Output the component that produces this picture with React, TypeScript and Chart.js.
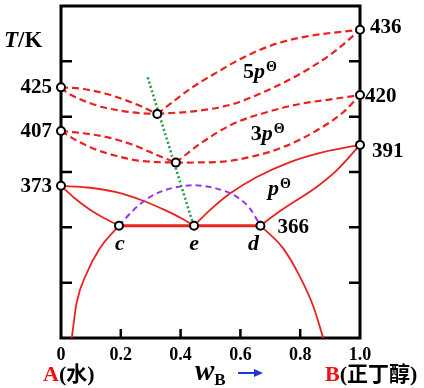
import React, { useEffect, useRef } from "react";
import { Chart, registerables } from "chart.js";
Chart.register(...registerables);

// ---- axis ticks ----
const xTickValues = [0, 0.2, 0.4, 0.6, 0.8, 1.0];
const xTickLabels = ["0", "0.2", "0.4", "0.6", "0.8", "1.0"];
const yTickValues = [1, 2, 3, 4, 5];

// ---- boiling / azeotropic temperatures (schematic height units) ----
const leftTempLabels = ["425", "407", "373"];
const leftTempY = [4.53, 3.74, 2.75];
const rightTempLabels = ["436", "420", "391"];
const rightTempY = [5.57, 4.39, 3.49];
const eutecticLabel = "366";
const eutecticY = 2.03;

// ---- special points ----
const pointNames = ["c", "e", "d"];
const pointX = [0.194, 0.445, 0.667];
const azeoX = [0.322, 0.384];
const azeoY = [4.05, 3.17];

// ---- 5p curves ----
const p5LeftDewX = [0, 0.075, 0.153, 0.22, 0.275, 0.322];
const p5LeftDewY = [4.53, 4.5, 4.41, 4.29, 4.17, 4.05];
const p5LeftBubX = [0, 0.019, 0.075, 0.141, 0.208, 0.275, 0.322];
const p5LeftBubY = [4.53, 4.44, 4.29, 4.17, 4.1, 4.06, 4.05];
const p5RightDewX = [0.322, 0.365, 0.431, 0.521, 0.61, 0.721, 0.833, 1.0];
const p5RightDewY = [4.05, 4.23, 4.5, 4.8, 5.07, 5.32, 5.46, 5.57];
const p5RightBubX = [0.322, 0.465, 0.576, 0.688, 0.799, 0.911, 1.0];
const p5RightBubY = [4.05, 4.11, 4.23, 4.47, 4.77, 5.16, 5.57];

// ---- 3p curves ----
const p3LeftDewX = [0, 0.075, 0.153, 0.231, 0.298, 0.342, 0.384];
const p3LeftDewY = [3.74, 3.7, 3.63, 3.51, 3.36, 3.26, 3.17];
const p3LeftBubX = [0, 0.052, 0.119, 0.186, 0.253, 0.32, 0.384];
const p3LeftBubY = [3.74, 3.57, 3.4, 3.29, 3.21, 3.18, 3.17];
const p3RightDewX = [0.384, 0.465, 0.576, 0.688, 0.799, 0.911, 1.0];
const p3RightDewY = [3.17, 3.51, 3.87, 4.08, 4.23, 4.32, 4.39];
const p3RightBubX = [0.384, 0.521, 0.632, 0.743, 0.855, 0.944, 1.0];
const p3RightBubY = [3.17, 3.18, 3.27, 3.45, 3.75, 4.08, 4.39];

// ---- p curves ----
const p1LeftDewX = [0, 0.091, 0.181, 0.27, 0.348, 0.404, 0.445];
const p1LeftDewY = [2.75, 2.72, 2.64, 2.49, 2.31, 2.16, 2.03];
const p1LeftBubX = [0, 0.047, 0.091, 0.136, 0.194];
const p1LeftBubY = [2.75, 2.52, 2.34, 2.19, 2.03];
const p1RightDewX = [0.445, 0.498, 0.565, 0.655, 0.766, 0.877, 1.0];
const p1RightDewY = [2.03, 2.31, 2.61, 2.91, 3.18, 3.36, 3.49];
const p1RightBubX = [0.667, 0.721, 0.788, 0.855, 0.922, 1.0];
const p1RightBubY = [2.03, 2.25, 2.49, 2.73, 3.03, 3.49];

// ---- solubility curves ----
const solLeftX = [0.036, 0.052, 0.086, 0.13, 0.194];
const solLeftY = [0, 0.63, 1.17, 1.62, 2.03];
const solRightX = [0.667, 0.743, 0.799, 0.844, 0.877];
const solRightY = [2.03, 1.62, 1.11, 0.57, 0];

// ---- dome (dashed purple) ----
const domeX = [0.194, 0.242, 0.298, 0.365, 0.443, 0.521, 0.588, 0.632, 0.667];
const domeY = [2.03, 2.31, 2.55, 2.7, 2.76, 2.7, 2.55, 2.34, 2.03];

// ---- azeotrope locus (green dotted) ----
const locusX = [0.29, 0.448];
const locusY = [4.71, 1.95];

// ---- region labels ----
const regionPrefix = ["5", "3", ""];
const regionX = [0.609, 0.635, 0.692];
const regionY = [4.69, 3.57, 2.58];

const RED = "#e8231f";
const PURPLE = "#9b30f0";
const GREEN = "#2a9a4a";
const BLUE = "#2233dd";
const SERIF = '"Liberation Serif", "Times New Roman", serif';
const CJK = '"Noto Sans CJK SC", sans-serif';

function zip(xs: number[], ys: number[]) {
  return xs.map((x, i) => ({ x, y: ys[i] }));
}

function line(xs: number[], ys: number[], kind: string) {
  const base: any = {
    data: zip(xs, ys),
    showLine: true,
    pointRadius: 0,
    pointHoverRadius: 0,
    fill: false,
    cubicInterpolationMode: "monotone",
    order: 5,
  };
  if (kind === "dash") {
    return { ...base, borderColor: RED, borderWidth: 2.2, borderDash: [7, 4] };
  }
  if (kind === "solid") {
    return { ...base, borderColor: RED, borderWidth: 1.8 };
  }
  if (kind === "tie") {
    return { ...base, borderColor: RED, borderWidth: 3, cubicInterpolationMode: "default", tension: 0 };
  }
  if (kind === "dome") {
    return { ...base, borderColor: PURPLE, borderWidth: 2, borderDash: [6, 4] };
  }
  return { ...base, borderColor: GREEN, borderWidth: 2.6, borderDash: [2, 2.5], cubicInterpolationMode: "default", tension: 0, order: 4 };
}

function runs(ctx: CanvasRenderingContext2D, items: any[], x: number, y: number, align = "left") {
  let total = 0;
  for (const r of items) {
    ctx.font = r.font;
    total += ctx.measureText(r.text).width + (r.gap || 0);
  }
  let cx = align === "right" ? x - total : align === "center" ? x - total / 2 : x;
  for (const r of items) {
    ctx.font = r.font;
    ctx.fillStyle = r.color || "#000";
    ctx.fillText(r.text, cx, y + (r.dy || 0));
    cx += ctx.measureText(r.text).width + (r.gap || 0);
  }
}

const framePlugin = {
  id: "frame",
  beforeDatasetsDraw(chart: any) {
    const { ctx, chartArea: a, scales } = chart;
    const xs = scales.x;
    const ys = scales.y;
    ctx.save();
    ctx.strokeStyle = "#000";
    ctx.lineWidth = 3;
    ctx.strokeRect(a.left, a.top, a.right - a.left, a.bottom - a.top);
    ctx.lineWidth = 2.5;
    ctx.beginPath();
    for (const v of yTickValues) {
      const py = ys.getPixelForValue(v);
      ctx.moveTo(a.left, py);
      ctx.lineTo(a.left + 11, py);
      ctx.moveTo(a.right, py);
      ctx.lineTo(a.right - 11, py);
    }
    for (const v of xTickValues.slice(1, -1)) {
      const px = xs.getPixelForValue(v);
      ctx.moveTo(px, a.bottom);
      ctx.lineTo(px, a.bottom - 9);
    }
    ctx.stroke();
    ctx.restore();
  },
  afterDraw(chart: any) {
    const { ctx, chartArea: a, scales } = chart;
    const xs = scales.x;
    const ys = scales.y;
    ctx.save();
    ctx.textBaseline = "alphabetic";
    ctx.textAlign = "left";
    const bold = (s: number) => `bold ${s}px ${SERIF}`;
    const boldIt = (s: number) => `italic bold ${s}px ${SERIF}`;

    // T/K
    runs(ctx, [
      { text: "T", font: boldIt(23) },
      { text: "/K", font: bold(23) },
    ], 4, 47);

    // left temperatures
    leftTempLabels.forEach((t, i) => {
      runs(ctx, [{ text: t, font: bold(21) }], a.left - 9, ys.getPixelForValue(leftTempY[i]) + 6, "right");
    });
    // right temperatures
    const rdx = [10, 5, 12];
    const rdy = [3, 7, 12];
    rightTempLabels.forEach((t, i) => {
      runs(ctx, [{ text: t, font: bold(21) }], a.right + rdx[i], ys.getPixelForValue(rightTempY[i]) + rdy[i]);
    });
    runs(ctx, [{ text: eutecticLabel, font: bold(21) }], xs.getPixelForValue(pointX[2]) + 17, ys.getPixelForValue(eutecticY) + 7);

    // c e d
    const ndx = [1, 0, -7];
    pointNames.forEach((n, i) => {
      runs(ctx, [{ text: n, font: boldIt(22) }], xs.getPixelForValue(pointX[i]) + ndx[i], ys.getPixelForValue(eutecticY) + 24, "center");
    });

    // region labels
    regionPrefix.forEach((pre, i) => {
      const items: any[] = [];
      if (pre) items.push({ text: pre, font: bold(22) });
      items.push({ text: "p", font: boldIt(22), gap: 1 });
      items.push({ text: "\u0398", font: bold(14), dy: -7 });
      runs(ctx, items, xs.getPixelForValue(regionX[i]), ys.getPixelForValue(regionY[i]));
    });

    // x tick labels
    xTickLabels.forEach((t, i) => {
      runs(ctx, [{ text: t, font: bold(18) }], xs.getPixelForValue(xTickValues[i]), a.bottom + 22, "center");
    });

    // bottom captions
    runs(ctx, [
      { text: "A", font: bold(22), color: "#ee1111" },
      { text: "(", font: bold(22) },
      { text: "\u6c34", font: `bold 21px ${CJK}` },
      { text: ")", font: bold(22) },
    ], a.left - 18, a.bottom + 43);

    runs(ctx, [
      { text: "w", font: boldIt(29) },
      { text: "B", font: bold(17), dy: 5 },
    ], 195, a.bottom + 42);

    // arrow
    ctx.strokeStyle = BLUE;
    ctx.fillStyle = BLUE;
    ctx.lineWidth = 2;
    const ay = a.bottom + 35;
    ctx.beginPath();
    ctx.moveTo(238, ay);
    ctx.lineTo(256, ay);
    ctx.stroke();
    ctx.beginPath();
    ctx.moveTo(263, ay);
    ctx.lineTo(254, ay - 4);
    ctx.lineTo(254, ay + 4);
    ctx.closePath();
    ctx.fill();

    runs(ctx, [
      { text: "B", font: bold(22), color: "#ee1111" },
      { text: "(", font: bold(22) },
      { text: "\u6b63\u4e01\u9187", font: `bold 21px ${CJK}` },
      { text: ")", font: bold(22) },
    ], 325, a.bottom + 43);

    ctx.restore();
  },
};

export default function App() {
  const ref = useRef<HTMLCanvasElement | null>(null);
  useEffect(() => {
    if (!ref.current) return;
    const markers = [
      ...leftTempY.map((y) => ({ x: 0, y })),
      ...rightTempY.map((y) => ({ x: 1, y })),
      ...zip(azeoX, azeoY),
      ...pointX.map((x) => ({ x, y: eutecticY })),
    ];
    const chart = new Chart(ref.current, {
      type: "scatter",
      data: {
        datasets: [
          {
            data: markers,
            showLine: false,
            pointRadius: 4,
            pointHoverRadius: 4,
            pointBackgroundColor: "#fff",
            pointBorderColor: "#000",
            pointBorderWidth: 2,
            clip: false,
            order: 0,
          } as any,
          line(locusX, locusY, "locus"),
          line(domeX, domeY, "dome"),
          line(p5LeftDewX, p5LeftDewY, "dash"),
          line(p5LeftBubX, p5LeftBubY, "dash"),
          line(p5RightDewX, p5RightDewY, "dash"),
          line(p5RightBubX, p5RightBubY, "dash"),
          line(p3LeftDewX, p3LeftDewY, "dash"),
          line(p3LeftBubX, p3LeftBubY, "dash"),
          line(p3RightDewX, p3RightDewY, "dash"),
          line(p3RightBubX, p3RightBubY, "dash"),
          line(p1LeftDewX, p1LeftDewY, "solid"),
          line(p1LeftBubX, p1LeftBubY, "solid"),
          line(p1RightDewX, p1RightDewY, "solid"),
          line(p1RightBubX, p1RightBubY, "solid"),
          line(solLeftX, solLeftY, "solid"),
          line(solRightX, solRightY, "solid"),
          line(pointX, pointX.map(() => eutecticY), "tie"),
        ],
      },
      options: {
        animation: false,
        responsive: true,
        maintainAspectRatio: false,
        layout: { padding: { left: 61, right: 64, top: 5, bottom: 50 } },
        scales: {
          x: { type: "linear", display: false, min: 0, max: 1 },
          y: { type: "linear", display: false, min: 0, max: 6 },
        },
        plugins: { legend: { display: false }, tooltip: { enabled: false } },
        events: [],
      },
      plugins: [framePlugin],
    } as any);
    return () => chart.destroy();
  }, []);
  return (
    <div style={{ position: "absolute", left: 0, top: 0, width: 424, height: 388, background: "#fff" }}>
      <canvas ref={ref} />
    </div>
  );
}
